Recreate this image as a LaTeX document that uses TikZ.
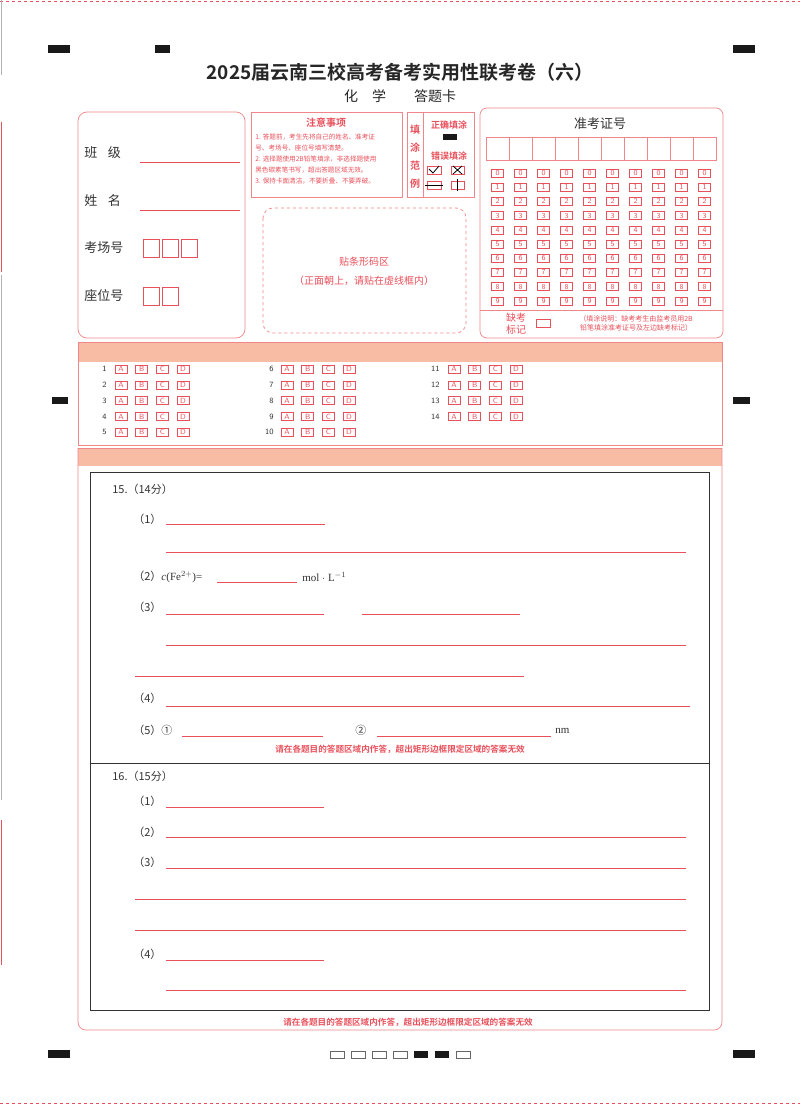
\documentclass[tikz,border=0pt]{standalone}
\usepackage{fontspec}
\setmainfont{Liberation Serif}
\newfontfamily\cjk{Noto Sans CJK SC}
\newfontfamily\cjkb{Noto Sans CJK SC Bold}
\begin{document}
\begin{tikzpicture}[x=1pt,y=-1pt,
  line width=0.7pt,
  lab/.style={font=\cjk\fontsize{13}{13}\selectfont,text=black!80,inner sep=0,anchor=west},
  qt/.style={font=\cjk\fontsize{11}{11}\selectfont,text=black!80,inner sep=0,anchor=west},
  nt/.style={font=\cjk\fontsize{6.6}{6.6}\selectfont,text=fred,inner sep=0,anchor=west},
  ans/.style={draw=fred,line width=0.6pt},
  bub/.style={draw=fred,line width=0.6pt,minimum width=12pt,minimum height=8pt,inner sep=0,font=\sffamily\fontsize{7.5}{7.5}\selectfont,text=fred},
  blk/.style={fill=black!90,draw=none},
  wbox/.style={draw=black!60,line width=0.8pt}]
\definecolor{fred}{HTML}{E8505B}
\definecolor{fpink}{HTML}{F0868A}
\definecolor{fsal}{HTML}{F8BCA5}
\useasboundingbox (0,0) rectangle (800,1105);
\fill[white] (0,0) rectangle (800,1105);
% edges
\draw[fred,dash pattern=on 3pt off 3pt] (0,1.5) -- (800,1.5);
\draw[fred,dash pattern=on 3pt off 3pt] (0,1103.5) -- (800,1103.5);
\draw[black!30] (1,0) -- (1,75);
\draw[fred,line width=1pt] (1,122) -- (1,272);
\draw[black!30] (1,275) -- (1,800);
\draw[fred,line width=1pt] (1,820) -- (1,965);
% marks
\fill[blk] (48,45) rectangle (70,53);
\fill[blk] (155,45) rectangle (170,53);
\fill[blk] (733,45) rectangle (755,53);
\fill[blk] (52,397) rectangle (68,404);
\fill[blk] (733,397) rectangle (750,404);
\fill[blk] (48,1050) rectangle (70,1058);
\fill[blk] (733,1050) rectangle (755,1058);
\foreach \x in {330,351,372,393,456} \draw[wbox] (\x,1051) rectangle ++(14,7);
\foreach \x in {414,435} \fill[blk] (\x,1051) rectangle ++(14,7);
% title
\node[font=\cjkb\fontsize{19}{19}\selectfont,text=black!85] (title) at (400,72) {2025届云南三校高考备考实用性联考卷（六）};
\node[font=\cjk\fontsize{14}{14}\selectfont,text=black!85] (sub) at (400,96) {化\quad 学\qquad 答题卡};
% info box
\draw[fpink,rounded corners=9pt] (78,112) rectangle (245,338);
\node[lab] (bj) at (84,153) {班\hspace{0.8em}级};
\draw[ans] (140,162) -- (240,162);
\node[lab] (xm) at (84,201) {姓\hspace{0.8em}名};
\draw[ans] (140,210) -- (240,210);
\node[lab] (kc) at (84,248) {考场号};
\foreach \x in {143,162,181} \draw[ans] (\x,239) rectangle ++(16,18);
\node[lab] (zw) at (84,296) {座位号};
\foreach \x in {143,162} \draw[ans] (\x,287) rectangle ++(16,18);
% notes
\draw[fpink] (251,112) rectangle (402,197);
\node[font=\cjkb\fontsize{10}{10}\selectfont,text=fred] (zy) at (326,123) {注意事项};
\node[nt] (n1) at (255,137) {1. 答题前，考生先将自己的姓名、准考证};
\node[nt] (n2) at (255,148) {号、考场号、座位号填写清楚。};
\node[nt] (n3) at (255,159) {2. 选择题使用2B铅笔填涂，非选择题使用};
\node[nt] (n4) at (255,170) {黑色碳素笔书写，超出答题区域无效。};
\node[nt] (n5) at (255,181) {3. 保持卡面清洁，不要折叠、不要弄破。};
% fill example
\draw[fpink] (407,112) rectangle (474,197);
\draw[fpink] (423,112) -- (423,197);
\foreach \t/\y in {填/130,涂/148,范/166,例/184}
  \node[font=\cjkb\fontsize{10}{10}\selectfont,text=fred,inner sep=0] at (415,\y) {\t};
\node[font=\cjkb\fontsize{9}{9}\selectfont,text=fred] (zq) at (449,125) {正确填涂};
\fill[blk] (443,134) rectangle (457,140);
\node[font=\cjkb\fontsize{9}{9}\selectfont,text=fred] (cw) at (449,156) {错误填涂};
\draw[fred,line width=0.5pt] (427,166) rectangle (441,174);
\draw[black,line width=0.8pt] (429,169) -- (433,173) -- (439,166);
\draw[fred,line width=0.5pt] (451,166) rectangle (464,174);
\draw[black,line width=0.8pt] (453,166) -- (462,174) (462,166) -- (453,174);
\draw[fred,line width=0.5pt] (427,181) rectangle (441,189);
\draw[black,line width=0.7pt] (425,185) -- (443,185);
\draw[fred,line width=0.5pt] (451,181) rectangle (464,189);
\draw[black,line width=0.8pt] (457.5,179) -- (457.5,191);
% admission
\draw[fpink,rounded corners=7pt] (480,108) rectangle (723,338);
\node[font=\cjk\fontsize{13}{13}\selectfont,text=black!80] (zkz) at (600,124) {准考证号};
\foreach \i in {0,...,9} \draw[fpink] ({486+23*\i},137) rectangle ++(23,23);
\foreach \i in {0,...,9} \foreach \k in {0,...,9}
  \node[bub] at ({497.5+23*\i},{173+14.2*\k}) {\k};
\draw[fpink] (480,310) -- (723,310);
\node[font=\cjk\fontsize{10}{10}\selectfont,text=fred,inner sep=0] (qk1) at (516,318) {缺考};
\node[font=\cjk\fontsize{10}{10}\selectfont,text=fred,inner sep=0] (qk2) at (516,330) {标记};
\draw[fred,line width=0.5pt] (536,319) rectangle (550,327);
\node[font=\cjk\fontsize{7}{7}\selectfont,text=fred,inner sep=0] (qkt1) at (636,319) {（填涂说明：缺考考生由监考员用2B};
\node[font=\cjk\fontsize{7}{7}\selectfont,text=fred,inner sep=0] (qkt2) at (636,328) {铅笔填涂准考证号及左边缺考标记）};
% barcode
\draw[fpink,dashed,rounded corners=10pt] (263,208) rectangle (466,333);
\node[font=\cjk\fontsize{10}{10}\selectfont,text=fred] (tm) at (364,262) {贴条形码区};
\node[font=\cjk\fontsize{10}{10}\selectfont,text=fred] (tm2) at (364,281) {（正面朝上，请贴在虚线框内）};
% choice section
\fill[fsal] (78,342) rectangle (722,362);
\draw[fpink] (78,342) rectangle (722,445);
\foreach \c/\nx/\bx/\s/\e in {0/107/121/1/5,1/274/287/6/10,2/440/454/11/14}{
  \foreach \q in {\s,...,\e}{
    \pgfmathsetmacro\yy{369+15.8*(\q-\s)}
    \node[font=\sffamily\fontsize{8}{8}\selectfont,text=black!80,anchor=east,inner sep=0] at (\nx,\yy) {\q};
    \foreach \L [count=\j from 0] in {A,B,C,D}
      \node[bub] at ({\bx+20.7*\j},\yy) {\L};
  }}
% answer section
\fill[fsal] (78,448) rectangle (722,466);
\draw[fpink,rounded corners=8pt] (78,448) -- (78,1030) -- (722,1030) -- (722,448);
\draw[fpink] (78,448) -- (722,448);
\draw[black!80,line width=1pt] (90,472) rectangle (709,1010);
\draw[black!80,line width=1pt] (90,763) -- (709,763);
\node[qt] (q15) at (112,489) {15.（14分）};
\node[qt] at (133,519) {（1）}; \draw[ans] (166,524) -- (325,524);
\draw[ans] (166,552) -- (686,552);
\node[qt] at (133,577) {（2）\fontspec{Liberation Serif}\itshape c\upshape(Fe$^{2+}$)=};
\draw[ans] (217,582) -- (297,582);
\node[qt,font=\fontsize{11}{11}\selectfont] at (302,577) {mol $\cdot$ L$^{-1}$};
\node[qt] at (133,607) {（3）}; \draw[ans] (166,614) -- (324,614); \draw[ans] (362,614) -- (520,614);
\draw[ans] (166,645) -- (686,645);
\draw[ans] (135,676) -- (524,676);
\node[qt] at (133,698) {（4）}; \draw[ans] (166,706) -- (690,706);
\node[qt] at (133,730) {（5）①}; \draw[ans] (182,736) -- (323,736);
\node[qt] at (355,730) {②}; \draw[ans] (377,736) -- (551,736);
\node[qt,font=\fontsize{11}{11}\selectfont] at (555,731) {nm};
\node[font=\cjkb\fontsize{8.6}{9}\selectfont,text=fred] (w1) at (400,749) {请在各题目的答题区域内作答，超出矩形边框限定区域的答案无效};
\node[qt] (q16) at (112,776) {16.（15分）};
\node[qt] at (133,801) {（1）}; \draw[ans] (166,807) -- (324,807);
\node[qt] at (133,832) {（2）}; \draw[ans] (166,837) -- (686,837);
\node[qt] at (133,862) {（3）}; \draw[ans] (166,868) -- (686,868);
\draw[ans] (135,899) -- (686,899);
\draw[ans] (135,930) -- (686,930);
\node[qt] at (133,954) {（4）}; \draw[ans] (166,960) -- (324,960);
\draw[ans] (166,990) -- (686,990);
\node[font=\cjkb\fontsize{8.6}{9}\selectfont,text=fred] (w2) at (408,1022) {请在各题目的答题区域内作答，超出矩形边框限定区域的答案无效};
\end{tikzpicture}
\end{document}
